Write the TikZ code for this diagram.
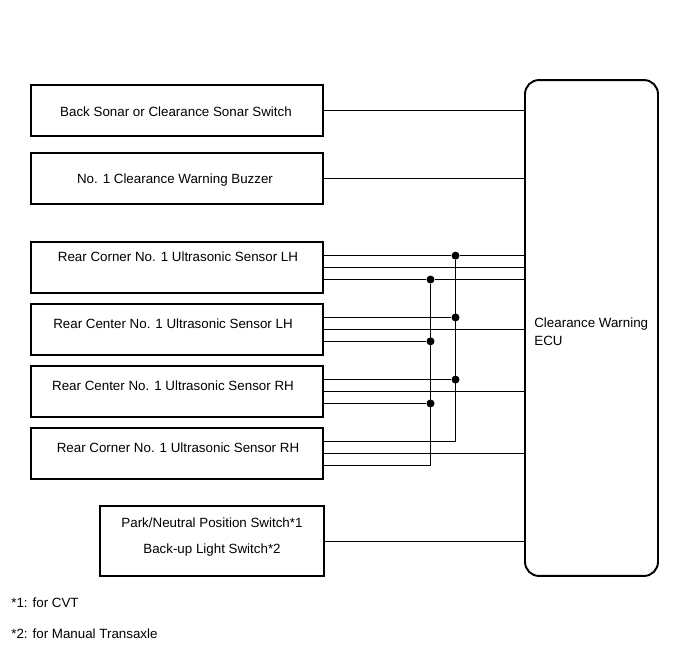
\documentclass[tikz,border=0pt]{standalone}
\usepackage{fontspec}
\setmainfont{Liberation Sans}
\tikzset{
  box/.style={draw=black, line width=1.1pt, minimum width=5.84cm, minimum height=1.02cm, inner sep=0pt},
  ecubox/.style={draw=black, line width=1.1pt, rounded corners=0.28cm, minimum width=2.66cm, minimum height=9.92cm, inner sep=0pt},
  txt/.style={font=\fontsize{7.6}{9}\selectfont, inner sep=0pt},
  wire/.style={draw=black, line width=0.6pt},
  joint/.style={fill=black, circle, inner sep=0pt, minimum size=0.16cm},
}
\begin{document}
\begin{tikzpicture}[x=0.02cm,y=-0.02cm]
\useasboundingbox (0,0) rectangle (690,660);
% units
\node[ecubox] (ecu) at (591.5,328) {};
\node[box] (sonar) at (177,110.8) {};
\node[box] (buzzer) at (177,178.8) {};
\node[box] (cornerlh) at (177,267.6) {};
\node[box] (centerlh) at (177,329.4) {};
\node[box] (centerrh) at (177,391.5) {};
\node[box] (cornerrh) at (177,453.2) {};
\node[box, minimum width=4.48cm, minimum height=1.4cm] (parkswitch) at (212,541.2) {};
% labels
\node[txt] (sonartext) at (176,112) {Back Sonar or Clearance Sonar Switch};
\node[txt] (buzzertext) at (175,180.5) {No. 1 Clearance Warning Buzzer};
\node[txt] (cornerlhtext) at (178,257) {Rear Corner No. 1 Ultrasonic Sensor LH};
\node[txt] (centerlhtext) at (173,324) {Rear Center No. 1 Ultrasonic Sensor LH};
\node[txt] (centerrhtext) at (173,386) {Rear Center No. 1 Ultrasonic Sensor RH};
\node[txt] (cornerrhtext) at (178,447.5) {Rear Corner No. 1 Ultrasonic Sensor RH};
\node[txt] (parktext) at (212,523) {Park/Neutral Position Switch*1};
\node[txt] (backuptext) at (212,550) {Back-up Light Switch*2};
\node[txt, anchor=west] (ecutext) at (534,324) {Clearance Warning};
\node[txt, anchor=west] (ecutextb) at (534,341) {ECU};
\node[txt, anchor=west] (noteone) at (11,603) {*1: for CVT};
\node[txt, anchor=west] (notetwo) at (11,634) {*2: for Manual Transaxle};
% signal lines into the ECU
\foreach \unit in {sonar,buzzer,cornerlh,centerlh,centerrh,cornerrh,parkswitch}
  \draw[wire] (\unit.east) -- (\unit.east -| ecu.west);
% shared lines
\coordinate (upperbus) at (455.5,0);
\coordinate (lowerbus) at (430.5,0);
\foreach \unit in {cornerlh,centerlh,centerrh}{
  \node[joint] (upper\unit) at ([yshift=6.8pt]\unit.east -| upperbus) {};
  \node[joint] (lower\unit) at ([yshift=-6.8pt]\unit.east -| lowerbus) {};
  \draw[wire] ([yshift=6.8pt]\unit.east) -- (upper\unit);
  \draw[wire] ([yshift=-6.8pt]\unit.east) -- (lower\unit);
}
\draw[wire] (uppercornerlh) -- (uppercornerlh -| ecu.west);
\draw[wire] (lowercornerlh) -- (lowercornerlh -| ecu.west);
\draw[wire] ([yshift=6.8pt]cornerrh.east) -| (uppercornerlh);
\draw[wire] ([yshift=-6.8pt]cornerrh.east) -| (lowercornerlh);
\end{tikzpicture}
\end{document}
